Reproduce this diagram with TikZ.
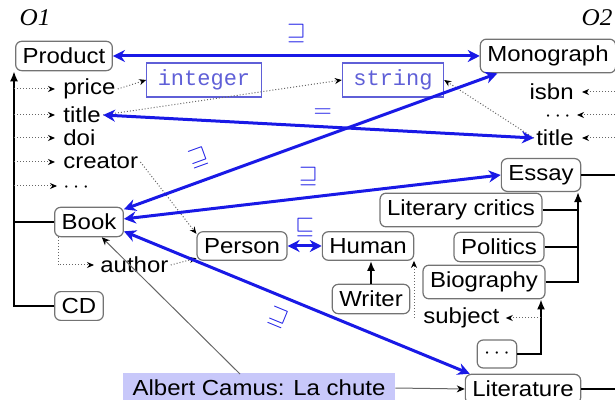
\documentclass[tikz,border=0pt]{standalone}
\usepackage{fontspec}
\setmainfont{Liberation Sans}[FakeStretch=1.1]
\setmonofont{Liberation Mono}
\newfontfamily\ofont{Liberation Serif}[FakeStretch=1.05]
\usetikzlibrary{arrows.meta}
\definecolor{mapblue}{RGB}{25,25,230}
\definecolor{dtblue}{RGB}{95,95,215}
\definecolor{lav}{RGB}{200,200,250}
\definecolor{boxgray}{RGB}{115,115,115}
\tikzset{
  cls/.style={draw=boxgray, rounded corners=3pt, line width=0.6pt, inner xsep=3.5pt,
    minimum height=14pt, font=\fontsize{10.9}{12}\selectfont},
  prop/.style={inner sep=1pt, font=\fontsize{10.9}{12}\selectfont},
  dotsprop/.style={inner sep=0pt, text height=1.2ex, text depth=0pt, font=\fontsize{10.9}{12}\selectfont},
  dtype/.style={draw=dtblue, line width=0.6pt, inner xsep=5.5pt, minimum height=13.5pt,
    text=dtblue, font=\fontsize{11}{12}\ttfamily},
  onto/.style={inner sep=1pt, font=\fontsize{12}{12}\ofont\itshape},
  mapping/.style={draw=mapblue, line width=1.5pt, {Stealth[length=6pt,width=6pt]}-{Stealth[length=6pt,width=6pt]}},
  mlabel/.style={text=mapblue, inner sep=1pt, font=\fontsize{11.5}{12}\selectfont},
  dotarrow/.style={draw=black!60, densely dotted, line width=0.5pt, -{Stealth[length=3.5pt,width=3pt,black]}},
  hier/.style={draw=black, line width=0.9pt, -{Latex[length=5pt,width=4pt]}},
  hline/.style={draw=black, line width=0.9pt},
  thinarrow/.style={draw=black!60, line width=0.5pt, -{Stealth[length=4pt,width=3.5pt,black]}}
}
\begin{document}
\begin{tikzpicture}[x=0.5pt,y=-0.5pt]
\useasboundingbox (0,0) rectangle (615,400);
\clip (0,0) rectangle (615,400);

% ontology labels
\node[onto] (o1) at (35,18) {O1};
\node[onto] (o2) at (597,18) {O2};

% O1 classes
\node[cls] (product) at (64,56) {Product};
\node[cls] (book) at (89,222) {Book};
\node[cls] (cd) at (79,306) {CD};
\node[cls] (person) at (242,246) {Person};

% O1 properties
\node[prop, anchor=west] (price) at (61,89) {price};
\node[prop, anchor=west] (title1) at (61,115) {title};
\node[prop, anchor=west] (doi) at (61,138) {doi};
\node[prop, anchor=west] (creator) at (61,162) {creator};
\node[dotsprop, anchor=west] (dots1) at (63,186) {$\cdots$};
\node[prop, anchor=west] (author) at (98,265) {author};

% datatypes
\node[dtype] (integer) at (204,80) {integer};
\node[dtype] (string) at (393,80) {string};

% O2 classes
\node[cls] (monograph) at (548,56) {Monograph};
\node[cls] (essay) at (541,175) {Essay};
\node[cls] (human) at (368,246) {Human};
\node[cls] (writer) at (371,299) {Writer};
\node[cls] (litcrit) at (461,210) {Literary critics};
\node[cls] (politics) at (499,247) {Politics};
\node[cls] (bio) at (484,282) {Biography};
\node[cls] (dots2) at (497,354) {$\cdots$};
\node[cls] (literature) at (523,389) {Literature};

% O2 properties
\node[prop, anchor=east] (isbn) at (576,92) {isbn};
\node[dotsprop, anchor=east] (dots3) at (571,115) {$\cdots$};
\node[prop, anchor=east] (title2) at (576,138) {title};
\node[prop, anchor=west] (subject) at (421,318) {subject};

% instance
\node[fill=lav, minimum width=136pt, minimum height=15pt, inner sep=0pt,
  font=\fontsize{10.9}{12}\selectfont] (camus) at (259,388) {Albert Camus: La chute};

% helper coordinates
\coordinate (v1) at (14,0);
\coordinate (v2) at (578,0);
\coordinate (v3) at (541,0);
\coordinate (rx) at (630,0);
\coordinate (sj) at (541,318);
\coordinate (sh) at (414,318);
\coordinate (camusup) at (240,374);

% O1 hierarchy
\draw[hier] (cd.west) -| (v1 |- product.south);
\draw[hline] (book.west) -- (book.west -| v1);
\foreach \p in {price,title1,doi,creator,dots1}
  \draw[dotarrow, shorten >=3pt] (\p.west -| v1) -- (\p.west);
\draw[dotarrow, shorten >=2pt] ([xshift=2]book.south west) |- (author.west);
\draw[dotarrow] (price.east) -- (integer.west);
\draw[dotarrow] (title1.east) -- (string.west);
\draw[dotarrow] (creator.east) -- (person.165);
\draw[dotarrow] (author.east) -- (person.195);

% O2 hierarchy
\draw[hline] (litcrit.east) -- (litcrit.east -| v2);
\draw[hline] (politics.east) -- (politics.east -| v2);
\draw[hier] (bio.east) -| (v2 |- essay.south);
\draw[hier] (dots2.east) -| (v3 |- bio.south);
\draw[hier] (writer.north) -- (writer.north |- human.south);
\draw[hline] (essay.east) -- (essay.east -| rx);
\draw[hline] (literature.east) -- (literature.east -| rx);
\foreach \p in {isbn,dots3,title2}
  \draw[dotarrow, shorten >=3pt] (\p.east -| rx) -- (\p.east);
\draw[dotarrow] (title2.west) -- (string.east);
\draw[dotarrow, shorten >=2pt] (sj) -- (subject.east);
\draw[dotarrow] (sh) -- (sh |- human.south);

% instance links
\draw[thinarrow] (camus.east) -- (literature.west);
\draw[thinarrow] (camusup) -- (book.-50);

% mappings
\draw[mapping] (product.east) -- node[mlabel, pos=0.5, above=5pt] {$\sqsupseteq$} (monograph.west);
\draw[mapping] (title1.east) -- node[mlabel, pos=0.51, above=3pt] {$=$} (title2.west);
\draw[mapping] (book.20) -- node[mlabel, pos=0.22, above=5pt, sloped] {$\sqsupseteq$} (monograph.-161);
\draw[mapping] (book.5) -- node[mlabel, pos=0.49, above=4pt] {$\sqsupseteq$} (essay.west);
\draw[mapping] (book.-15) -- node[mlabel, pos=0.47, below=4pt, sloped] {$\sqsupseteq$} (literature.164);
\draw[mapping] (person.east) -- node[mlabel, above=3pt] {$\sqsubseteq$} (human.west);
\end{tikzpicture}
\end{document}
